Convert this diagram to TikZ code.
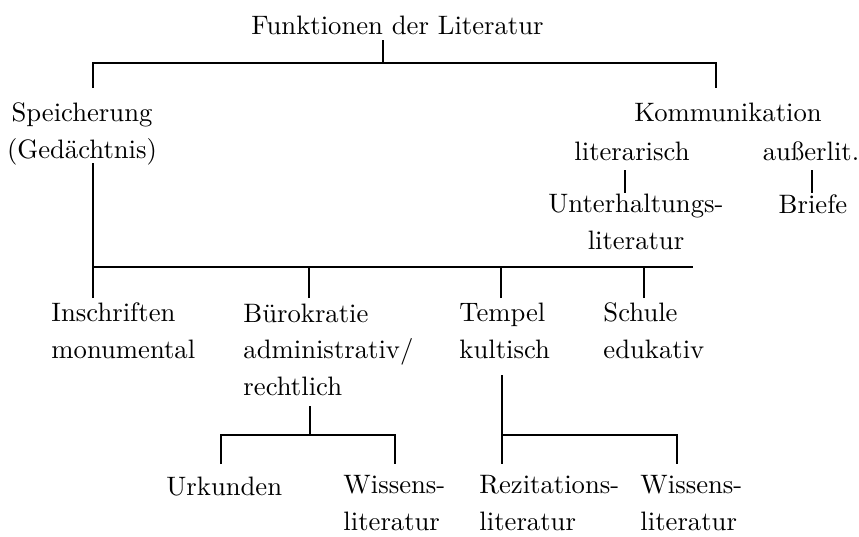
\documentclass[tikz,border=0pt]{standalone}

\begin{document}
\begin{tikzpicture}[x=0.375pt, y=-0.375pt, line width=1.1pt,
    txt/.style={inner sep=0pt, font=\fontsize{10}{13.6}\selectfont},
    lbl/.style={txt, align=left, anchor=base west},
    cbl/.style={txt, align=center, anchor=base}]
    \useasboundingbox (0,0) rectangle (859,536);

    % Wurzel
    \node[lbl] (funk) at (250,34) {Funktionen der Literatur};
    \coordinate (funkB) at (383,40);
    \coordinate (funkJ) at (383,63);
    \coordinate (speiT) at (93,88);
    \coordinate (kommT) at (716,88);
    \draw (funkB) -- (funkJ);
    \draw (speiT) |- (funkJ) -| (kommT);

    % Speicherung und Kommunikation (base = letzte Zeile)
    \node[cbl] (spei) at (82,158) {Speicherung\\(Gedächtnis)};
    \node[cbl] (komm) at (728,121) {Kommunikation};
    \node[cbl] (lit) at (632,160) {literarisch};
    \node[cbl] (aus) at (811,160) {außerlit.};
    \node[cbl] (unt) at (636,249) {Unterhaltungs-\\literatur};
    \node[cbl] (brief) at (813,213) {Briefe};
    \coordinate (litB) at (625,170);
    \coordinate (untT) at (625,193);
    \coordinate (ausB) at (812,170);
    \coordinate (briefT) at (812,193);
    \draw (litB) -- (untT);
    \draw (ausB) -- (briefT);

    % Orte der Speicherung
    \coordinate (speiB) at (93,163);
    \coordinate (barE) at (693,267);
    \draw (speiB) |- (barE);
    \coordinate (inschT) at (93,298);
    \coordinate (bueroT) at (309,298);
    \coordinate (tempT) at (501,298);
    \coordinate (schulT) at (644,298);
    \foreach \c in {inschT,bueroT,tempT,schulT}
        \draw (\c) -- (\c |- barE);

    \node[lbl] (insch) at (50,358) {Inschriften\\monumental};
    \node[lbl] (buero) at (242,395) {Bürokratie\\administrativ/\\rechtlich};
    \node[lbl] (temp) at (458,358) {Tempel\\kultisch};
    \node[lbl] (schul) at (602,358) {Schule\\edukativ};

    % Bürokratie
    \coordinate (bueroB) at (310,406);
    \coordinate (bueroJ) at (310,435);
    \coordinate (urkT) at (221,464);
    \coordinate (wisAT) at (395,464);
    \draw (bueroB) -- (bueroJ);
    \draw (urkT) -- (urkT |- bueroJ) -- (wisAT |- bueroJ) -- (wisAT);
    \node[lbl] (urk) at (165,495) {Urkunden};
    \node[lbl] (wisA) at (342,530) {Wissens-\\literatur};

    % Tempel
    \coordinate (tempB) at (502,375);
    \coordinate (tempJ) at (502,435);
    \coordinate (rezT) at (502,464);
    \coordinate (wisBT) at (677,464);
    \draw (tempB) -- (rezT);
    \draw (tempJ) -| (wisBT);
    \node[lbl] (rez) at (478,530) {Rezitations-\\literatur};
    \node[lbl] (wisB) at (639,530) {Wissens-\\literatur};

\end{tikzpicture}
\end{document}
